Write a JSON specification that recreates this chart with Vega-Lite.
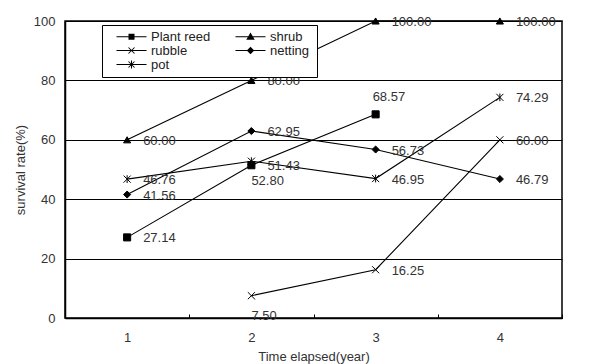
{
  "$schema": "https://vega.github.io/schema/vega-lite/v6.json",
  "width": 497,
  "height": 297,
  "autosize": {"type": "none"},
  "padding": {"left": 65, "top": 21, "right": 32, "bottom": 46},
  "background": "white",
  "config": {
    "view": {"stroke": "black", "strokeWidth": 1.5},
    "font": "Liberation Sans"
  },
  "data": {
    "values": [
      {"series": "Plant reed", "year": 1, "value": 27.14},
      {"series": "Plant reed", "year": 2, "value": 51.43},
      {"series": "Plant reed", "year": 3, "value": 68.57},
      {"series": "shrub", "year": 1, "value": 60.00},
      {"series": "shrub", "year": 2, "value": 80.00},
      {"series": "shrub", "year": 3, "value": 100.00},
      {"series": "shrub", "year": 4, "value": 100.00},
      {"series": "rubble", "year": 2, "value": 7.50},
      {"series": "rubble", "year": 3, "value": 16.25},
      {"series": "rubble", "year": 4, "value": 60.00},
      {"series": "netting", "year": 1, "value": 41.56},
      {"series": "netting", "year": 2, "value": 62.95},
      {"series": "netting", "year": 3, "value": 56.73},
      {"series": "netting", "year": 4, "value": 46.79},
      {"series": "pot", "year": 1, "value": 46.76},
      {"series": "pot", "year": 2, "value": 52.80},
      {"series": "pot", "year": 3, "value": 46.95},
      {"series": "pot", "year": 4, "value": 74.29}
    ]
  },
  "encoding": {
    "x": {
      "field": "year", "type": "ordinal",
      "scale": {"type": "band", "paddingInner": 0, "paddingOuter": 0},
      "axis": {"title": "Time elapsed(year)", "labelAngle": 0, "tickBand": "extent", "tickSize": -4, "tickColor": "black", "tickWidth": 1, "labelPadding": 17, "titlePadding": 6, "grid": false, "labelFont": "Liberation Sans", "titleFont": "Liberation Sans", "labelFontSize": 13, "titleFontSize": 13, "labelColor": "#333", "titleColor": "#333", "titleFontWeight": "normal", "domainColor": "black", "domainWidth": 1.5}
    },
    "y": {
      "field": "value", "type": "quantitative",
      "scale": {"domain": [0, 100], "nice": false, "zero": true},
      "axis": {"title": "survival rate(%)", "values": [0, 20, 40, 60, 80, 100], "ticks": false, "labelPadding": 10, "titlePadding": 6, "grid": true, "gridColor": "black", "gridWidth": 1, "gridOpacity": 1, "labelFont": "Liberation Sans", "titleFont": "Liberation Sans", "labelFontSize": 13, "titleFontSize": 13, "labelColor": "#333", "titleColor": "#333", "titleFontWeight": "normal", "domainColor": "black", "domainWidth": 1.5}
    }
  },
  "layer": [
    {
      "mark": {"type": "line", "color": "black", "strokeWidth": 1.1},
      "encoding": {"detail": {"field": "series"}}
    },
    {
      "mark": {"type": "point", "filled": true, "color": "black", "stroke": "black", "strokeWidth": 1, "opacity": 1, "size": 50},
      "encoding": {
        "shape": {
          "field": "series", "type": "nominal",
          "scale": {
            "domain": ["Plant reed", "shrub", "rubble", "netting", "pot"],
            "range": ["square", "triangle-up", "M-1,-1L1,1M-1,1L1,-1", "diamond", "M-1,-1L1,1M-1,1L1,-1M0,-1.1V1.1"]
          },
          "legend": null
        }
      }
    },
    {
      "mark": {"type": "point", "filled": true, "color": "black", "opacity": 0, "size": 100},
      "encoding": {
        "shape": {
          "field": "series", "type": "nominal",
          "scale": {
            "domain": ["Plant reed", "shrub", "rubble", "netting", "pot"],
            "range": [
              "M0.6,-0.1H6.6V0.1H0.6Z M3,-0.6H4.2V0.6H3Z",
              "M0.6,-0.1H6.6V0.1H0.6Z M3.6,-0.85L4.45,0.6H2.75Z",
              "M0.6,-0.1H6.6V0.1H0.6Z M2.93,-0.53L3.07,-0.67L4.27,0.53L4.13,0.67Z M2.93,0.53L4.13,-0.67L4.27,-0.53L3.07,0.67Z",
              "M0.6,-0.1H6.6V0.1H0.6Z M3.6,-0.75L4.35,0L3.6,0.75L2.85,0Z",
              "M0.6,-0.1H6.6V0.1H0.6Z M2.93,-0.53L3.07,-0.67L4.27,0.53L4.13,0.67Z M2.93,0.53L4.13,-0.67L4.27,-0.53L3.07,0.67Z M3.5,-0.8H3.7V0.8H3.5Z"
            ]
          },
          "legend": {
            "title": "\u00a0\u00a0\u00a0\u00a0\u00a0",
            "titleOrient": "right",
            "titlePadding": 3,
            "titleFontSize": 13,
            "titleColor": "white",
            "orient": "none",
            "legendX": 37,
            "legendY": 4,
            "direction": "horizontal",
            "columns": 2,
            "gridAlign": "all",
            "columnPadding": 15,
            "rowPadding": 0,
            "padding": 5,
            "strokeColor": "black",
            "fillColor": "white",
            "cornerRadius": 0,
            "symbolSize": 100,
            "symbolFillColor": "black",
            "symbolStrokeColor": "black",
            "symbolStrokeWidth": 0,
            "symbolOpacity": 1,
            "labelOffset": 31,
            "labelFontSize": 13,
            "labelColor": "#222",
            "labelFont": "Liberation Sans",
            "labelLimit": 200
          }
        }
      }
    },
    {
      "transform": [{"filter": "!((datum.series === 'pot' && datum.year === 2) || (datum.series === 'rubble' && datum.year === 2) || (datum.series === 'Plant reed' && datum.year === 3))"}],
      "mark": {"type": "text", "align": "left", "baseline": "middle", "dx": 16, "dy": 1, "fontSize": 13, "color": "#333", "font": "Liberation Sans"},
      "encoding": {"text": {"field": "value", "type": "quantitative", "format": ".2f"}}
    },
    {
      "transform": [{"filter": "(datum.series === 'pot' && datum.year === 2) || (datum.series === 'rubble' && datum.year === 2)"}],
      "mark": {"type": "text", "align": "left", "baseline": "middle", "dx": 0, "dy": 20, "fontSize": 13, "color": "#333", "font": "Liberation Sans"},
      "encoding": {"text": {"field": "value", "type": "quantitative", "format": ".2f"}}
    },
    {
      "transform": [{"filter": "datum.series === 'Plant reed' && datum.year === 3"}],
      "mark": {"type": "text", "align": "left", "baseline": "middle", "dx": -3, "dy": -17, "fontSize": 13, "color": "#333", "font": "Liberation Sans"},
      "encoding": {"text": {"field": "value", "type": "quantitative", "format": ".2f"}}
    }
  ],
  "resolve": {"scale": {"shape": "independent"}, "legend": {"shape": "independent"}}
}
